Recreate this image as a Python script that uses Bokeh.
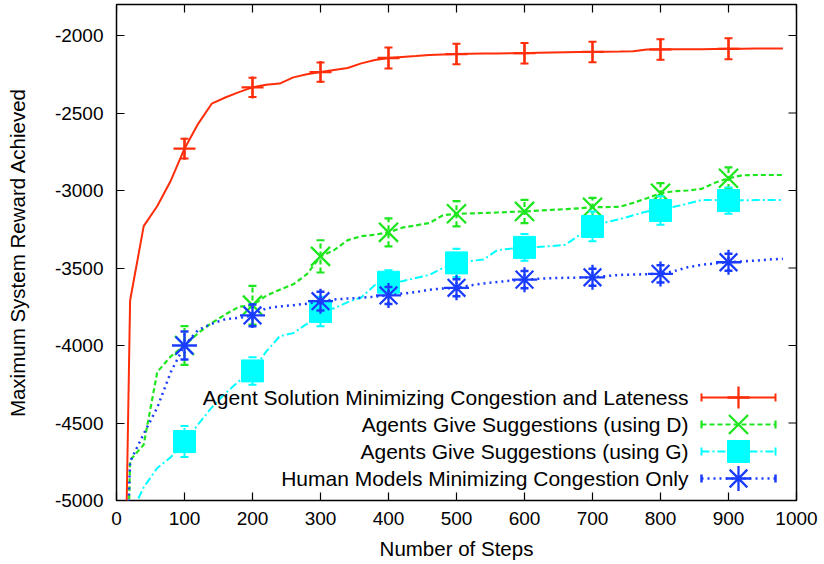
import math
from bokeh.plotting import figure
from bokeh.models import Range1d, FixedTicker, Label
from bokeh.embed import file_html
from bokeh.resources import INLINE

# ---------------- data ----------------
steps = list(range(0, 1000, 20))

agent_solution = [-8900, -3710, -3230, -3100, -2935, -2730, -2570, -2440, -2400, -2365,
                  -2335, -2318, -2310, -2270, -2250, -2236, -2222, -2210, -2180, -2158,
                  -2145, -2138, -2133, -2126, -2122, -2120, -2118, -2116, -2116, -2115,
                  -2114, -2112, -2110, -2108, -2107, -2106, -2105, -2104, -2102, -2091,
                  -2090, -2089, -2088, -2088, -2087, -2086, -2085, -2084, -2084, -2084]

suggest_d = [-8500, -4740, -4640, -4170, -4070, -4000, -3920, -3855, -3800, -3750,
             -3740, -3680, -3640, -3605, -3540, -3425, -3385, -3320, -3295, -3285,
             -3270, -3240, -3225, -3210, -3160, -3150, -3148, -3145, -3142, -3138,
             -3135, -3130, -3125, -3120, -3115, -3108, -3107, -3105, -3080, -3050,
             -3018, -3005, -3000, -2990, -2950, -2921, -2902, -2900, -2900, -2900]

suggest_g = [-9000, -5100, -4915, -4790, -4720, -4620, -4510, -4400, -4310, -4230,
             -4164, -4040, -3940, -3920, -3860, -3780, -3760, -3720, -3690, -3610,
             -3592, -3585, -3565, -3545, -3500, -3467, -3455, -3445, -3385, -3375,
             -3367, -3365, -3358, -3350, -3290, -3232, -3205, -3185, -3160, -3135,
             -3129, -3105, -3085, -3062, -3062, -3065, -3063, -3062, -3062, -3062]

human_models = [-7250, -4750, -4570, -4400, -4170, -4000, -3900, -3860, -3830, -3822,
                -3806, -3760, -3748, -3740, -3730, -3714, -3703, -3697, -3692, -3685,
                -3677, -3665, -3656, -3640, -3632, -3628, -3612, -3600, -3590, -3582,
                -3575, -3570, -3566, -3563, -3562, -3560, -3552, -3545, -3542, -3540,
                -3538, -3520, -3495, -3480, -3470, -3463, -3458, -3452, -3445, -3441]

marker_steps = [100, 200, 300, 400, 500, 600, 700, 800, 900]
agent_solution_err = [64, 62, 62, 68, 66, 66, 66, 66, 68]
suggest_d_err = [125, 125, 104, 90, 81, 75, 60, 65, 70]
suggest_g_err = [100, 89, 95, 78, 91, 87, 96, 92, 85]
human_models_err = [90, 70, 60, 55, 55, 55, 55, 55, 55]

labels = ["Agent Solution Minimizing Congestion and Lateness",
          "Agents Give Suggestions (using D)",
          "Agents Give Suggestions (using G)",
          "Human Models Minimizing Congestion Only"]

x_ticks = [0, 100, 200, 300, 400, 500, 600, 700, 800, 900, 1000]
y_ticks = [-5000, -4500, -4000, -3500, -3000, -2500, -2000]

# ---------------- layout ----------------
W, H = 824, 564
FL, FR, FT, FB = 116, 796, 4, 500
X0, X1, Y0, Y1 = 0, 1000, -5000, -1800
FONT = "Liberation Sans"
TICK_FS = "19px"
TEXT_FS = "20.5px"
LEGEND_FS = "21px"

p = figure(width=W, height=H, output_backend="svg", toolbar_location=None,
           x_range=Range1d(X0, X1), y_range=Range1d(Y0, Y1),
           min_border_left=FL, min_border_right=W - FR,
           min_border_top=FT, min_border_bottom=H - FB,
           background_fill_color="white", border_fill_color="white")
p.grid.visible = False
p.outline_line_color = "black"
p.outline_line_width = 1.5

for ax in (p.xaxis[0], p.yaxis[0]):
    ax.axis_line_color = None
    ax.major_tick_in = 8
    ax.major_tick_out = 0
    ax.major_tick_line_color = "black"
    ax.major_tick_line_width = 1.2
    ax.minor_tick_line_color = None
    ax.major_label_text_font = FONT
    ax.major_label_text_font_size = TICK_FS
    ax.major_label_text_color = "black"
    ax.axis_label_text_font = FONT
    ax.axis_label_text_font_size = TEXT_FS
    ax.axis_label_text_font_style = "normal"
    ax.axis_label_text_color = "black"

p.xaxis.ticker = FixedTicker(ticks=x_ticks)
p.yaxis.ticker = FixedTicker(ticks=y_ticks)
p.yaxis.major_label_overrides = {v: str(v) for v in y_ticks}
p.xaxis.axis_label = "Number of Steps"
p.yaxis.axis_label = "Maximum System Reward Achieved"
p.xaxis.major_label_standoff = 11
p.yaxis.major_label_standoff = 13
p.xaxis.axis_label_standoff = 9
p.yaxis.axis_label_standoff = 23

# mirrored inward ticks on the top and right borders (clipped to the frame)
p.scatter(x_ticks, [Y1] * len(x_ticks), marker="dash", angle=math.pi / 2,
          size=16, line_color="black", line_width=1.2)
p.scatter([X1] * len(y_ticks), y_ticks, marker="dash",
          size=16, line_color="black", line_width=1.2)

series = [
    (agent_solution, agent_solution_err, "#ff2d0a", "solid", "cross", 22, 2.0),
    (suggest_d, suggest_d_err, "#1ee61e", "5 3", "x", 27, 2.2),
    (suggest_g, suggest_g_err, "#00ffff", "8 3 2 3", "square", 22, 2.0),
    (human_models, human_models_err, "#1a3cff", "2 4", "asterisk", 25, 2.5),
]


def px_x(px):
    return X0 + (px - FL) / (FR - FL) * (X1 - X0)


def px_y(py):
    return Y1 - (py - FT) / (FB - FT) * (Y1 - Y0)


legend_rows = [397, 424, 451, 478]
leg_x0, leg_x1, leg_xm, text_right = 701, 775, 738, 688
cap_h = 4


def draw_marker(xs, ys, marker, size, color):
    if marker == "square":
        p.scatter(xs, ys, marker="square", size=size,
                  fill_color=color, line_color=color)
    else:
        p.scatter(xs, ys, marker=marker, size=size,
                  line_color=color, line_width=2.3, fill_color=None)


for (vals, errs, color, dash, marker, msize, lw), lab, row in zip(series, labels, legend_rows):
    p.line(steps, vals, line_color=color, line_width=lw, line_dash=dash)
    mv = [vals[steps.index(s)] for s in marker_steps]
    lo = [v - e for v, e in zip(mv, errs)]
    hi = [v + e for v, e in zip(mv, errs)]
    p.segment(x0=marker_steps, y0=lo, x1=marker_steps, y1=hi,
              line_color=color, line_width=lw, line_dash=dash)
    p.scatter(marker_steps + marker_steps, lo + hi, marker="dash", size=8,
              line_color=color, line_width=lw)
    draw_marker(marker_steps, mv, marker, msize, color)
    # legend sample
    ly = px_y(row)
    p.line([px_x(leg_x0), px_x(leg_x1)], [ly, ly], line_color=color,
           line_width=lw, line_dash=dash)
    p.segment(x0=[px_x(leg_x0), px_x(leg_x1)], y0=[px_y(row - cap_h)] * 2,
              x1=[px_x(leg_x0), px_x(leg_x1)], y1=[px_y(row + cap_h)] * 2,
              line_color=color, line_width=lw)
    draw_marker([px_x(leg_xm)], [ly], marker, msize, color)
    p.add_layout(Label(x=px_x(text_right), y=ly, text=lab, text_align="right",
                       text_baseline="middle", text_font=FONT,
                       text_font_size=LEGEND_FS, text_color="black"))

open("out.html", "w").write(file_html(p, INLINE))
